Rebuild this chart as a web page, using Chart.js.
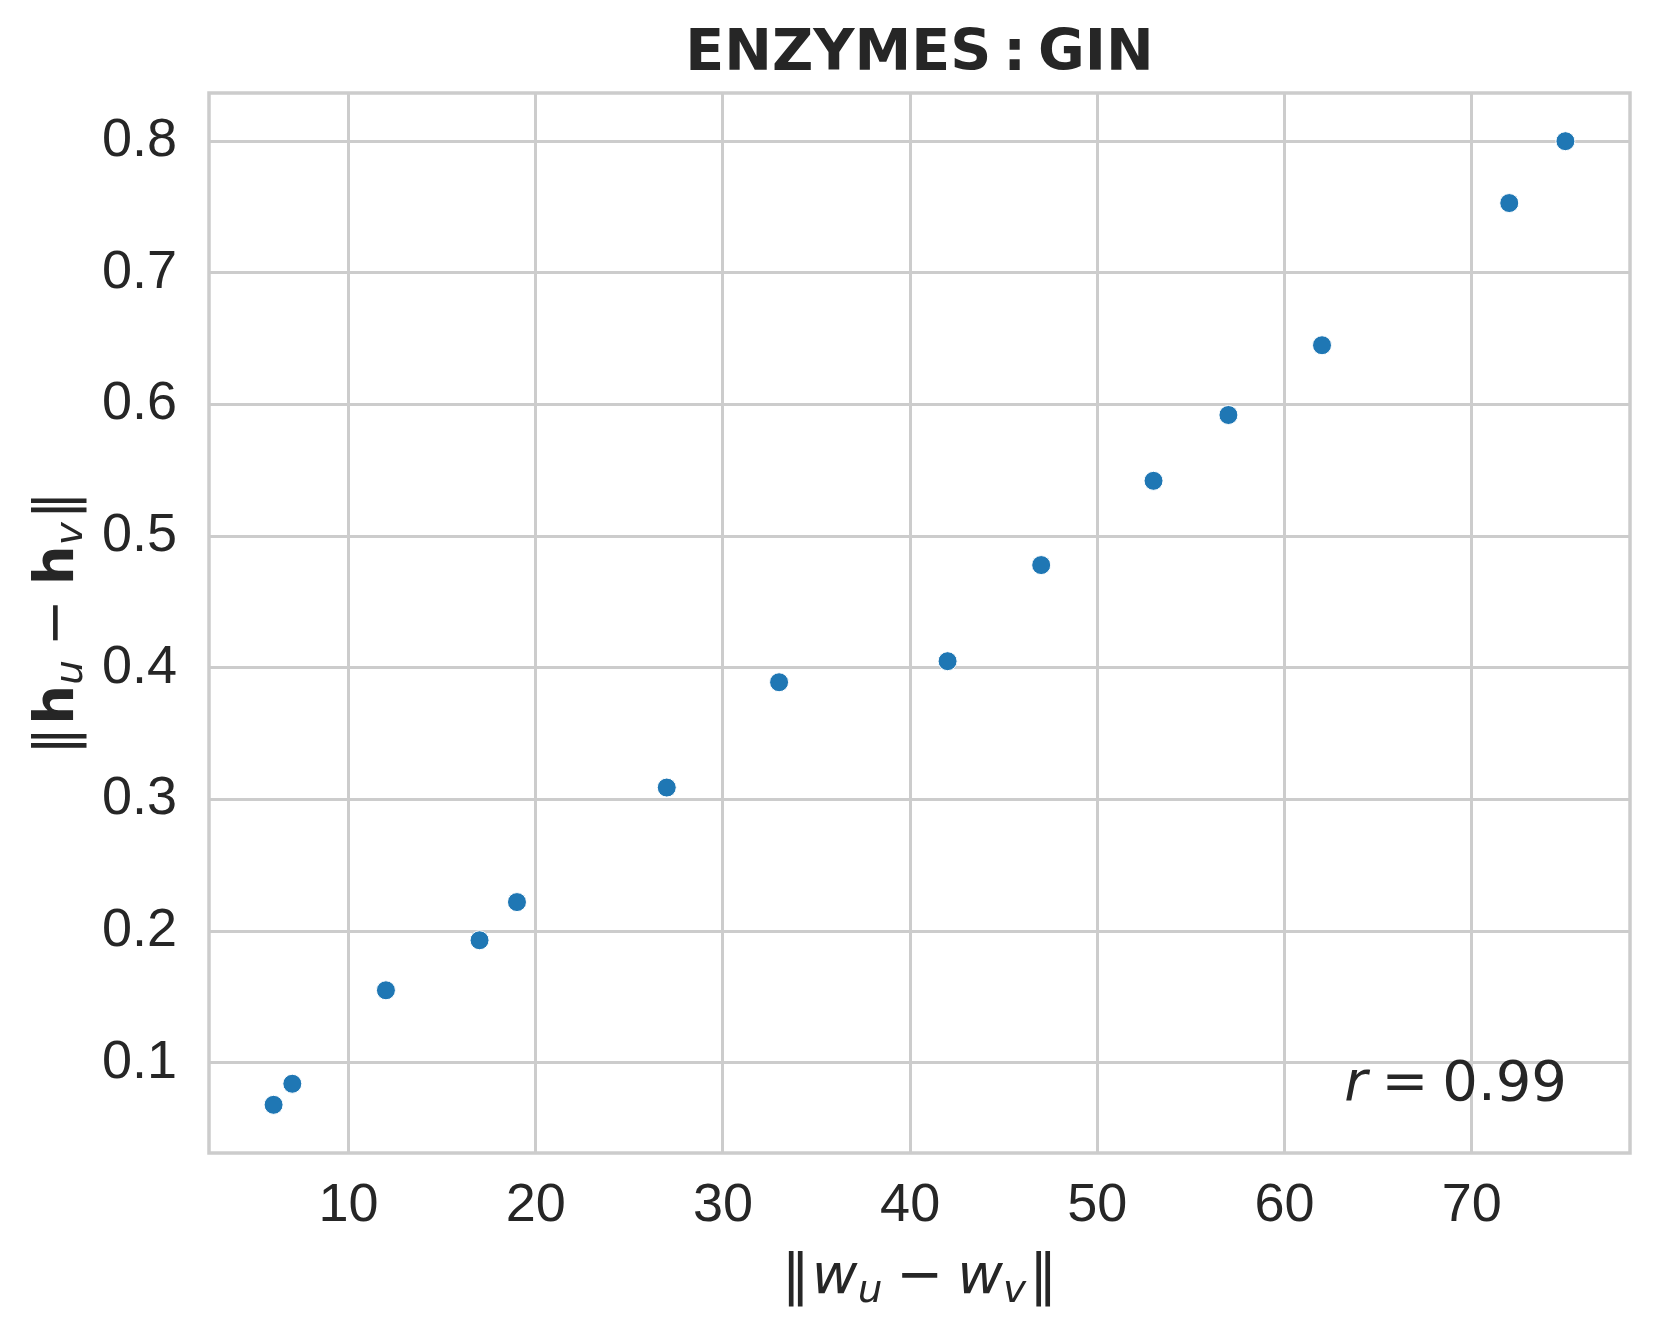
<!DOCTYPE html>
<html>
<head>
<meta charset="utf-8">
<script src="https://cdn.jsdelivr.net/npm/chart.js@4.4.1/dist/chart.umd.min.js"></script>
<style>
html, body { margin: 0; padding: 0; background: #ffffff; }
canvas { display: block; }
</style>
</head>
<body>
<canvas id="enzymesChart" width="1661" height="1339"></canvas>
<script>
// data
const xValues = [6, 7, 12, 17, 19, 27, 33, 42, 47, 53, 57, 62, 72, 75];
const yValues = [0.068, 0.084, 0.155, 0.193, 0.222, 0.309, 0.389, 0.405, 0.478, 0.542, 0.592, 0.645, 0.753, 0.800];
const xTicks = [10, 20, 30, 40, 50, 60, 70];
const yTicks = [0.1, 0.2, 0.3, 0.4, 0.5, 0.6, 0.7, 0.8];
const titleParts = ['ENZYMES', ':', 'GIN'];
const corrValue = '0.99';

const TEXT = '#262626';
const GRID = '#cccccc';
const MATH = "'DejaVu Sans'";

// matplotlib style 5% margins
function padded(vals) {
    const lo = Math.min(...vals), hi = Math.max(...vals);
    const m = (hi - lo) * 0.05;
    return [lo - m, hi + m];
}
const xRange = padded(xValues);
const yRange = padded(yValues);

// draws a row of text pieces with different fonts (poor man's mathtext)
function drawRuns(ctx, runs, x, y, align) {
    let total = 0;
    runs.forEach(r => {
        ctx.font = r.f;
        r.w = ctx.measureText(r.t).width;
        total += r.w + (r.gap || 0);
    });
    let cx = align === 'center' ? x - total / 2 : (align === 'right' ? x - total : x);
    runs.forEach(r => {
        ctx.font = r.f;
        ctx.fillText(r.t, cx, y + (r.dy || 0));
        cx += r.w + (r.gap || 0);
    });
}

const reg = `56px ${MATH}`;
const ital = `italic 56px ${MATH}`;
const bold = `bold 56px ${MATH}`;
const sub = `italic 39px ${MATH}`;

const textPlugin = {
    id: 'textPlugin',
    beforeDatasetsDraw(chart) {
        const { ctx, chartArea: a } = chart;
        ctx.save();
        ctx.strokeStyle = GRID;
        ctx.lineWidth = 3.5;
        ctx.strokeRect(a.left, a.top, a.right - a.left, a.bottom - a.top);
        ctx.restore();
    },
    afterDraw(chart) {
        const { ctx, chartArea: a } = chart;
        const midX = (a.left + a.right) / 2;
        const midY = (a.top + a.bottom) / 2;
        ctx.save();
        ctx.fillStyle = TEXT;
        ctx.textBaseline = 'alphabetic';
        ctx.textAlign = 'left';

        // title
        const tf = `bold 57px ${MATH}`;
        drawRuns(ctx, [
            { t: titleParts[0], f: tf, gap: 12 },
            { t: titleParts[1], f: tf, gap: 12 },
            { t: titleParts[2], f: tf }
        ], midX, 70, 'center');

        // x label  ||w_u - w_v||
        drawRuns(ctx, [
            { t: '‖', f: reg, gap: 2 },
            { t: 'w', f: ital },
            { t: 'u', f: sub, dy: 9, gap: 14 },
            { t: '−', f: reg, gap: 14 },
            { t: 'w', f: ital },
            { t: 'v', f: sub, dy: 9, gap: 3 },
            { t: '‖', f: reg }
        ], midX, 1293, 'center');

        // y label  ||h_u - h_v||
        ctx.save();
        ctx.translate(73, midY);
        ctx.rotate(-Math.PI / 2);
        drawRuns(ctx, [
            { t: '‖', f: reg, gap: 2 },
            { t: 'h', f: bold },
            { t: 'u', f: sub, dy: 9, gap: 14 },
            { t: '−', f: reg, gap: 14 },
            { t: 'h', f: bold },
            { t: 'v', f: sub, dy: 9, gap: 3 },
            { t: '‖', f: reg }
        ], 0, 0, 'center');
        ctx.restore();

        // correlation note
        drawRuns(ctx, [
            { t: 'r', f: ital, gap: 14 },
            { t: '=', f: reg, gap: 14 },
            { t: corrValue, f: reg }
        ], 1567, 1100, 'right');

        ctx.restore();
    }
};

const ctx = document.getElementById('enzymesChart').getContext('2d');
new Chart(ctx, {
    type: 'scatter',
    data: {
        datasets: [{
            data: xValues.map((x, i) => ({ x: x, y: yValues[i] })),
            backgroundColor: '#1f77b4',
            borderColor: '#ffffff',
            borderWidth: 1,
            pointRadius: 9.5,
            pointHoverRadius: 9.5
        }]
    },
    options: {
        responsive: false,
        animation: false,
        devicePixelRatio: 1,
        layout: { padding: { top: 93, right: 31, left: 0, bottom: 0 } },
        plugins: {
            legend: { display: false },
            tooltip: { enabled: false },
            title: { display: false }
        },
        scales: {
            x: {
                type: 'linear',
                min: xRange[0],
                max: xRange[1],
                afterBuildTicks: s => { s.ticks = xTicks.map(v => ({ value: v })); },
                afterFit: s => { s.height = 186; },
                grid: { color: GRID, lineWidth: 3, drawTicks: false },
                border: { display: false },
                ticks: {
                    autoSkip: false,
                    maxRotation: 0,
                    padding: 21,
                    color: TEXT,
                    font: { family: "'Liberation Sans', Arial, sans-serif", size: 54 },
                    callback: v => String(v)
                }
            },
            y: {
                type: 'linear',
                min: yRange[0],
                max: yRange[1],
                afterBuildTicks: s => { s.ticks = yTicks.map(v => ({ value: v })); },
                afterFit: s => { s.width = 209; },
                grid: { color: GRID, lineWidth: 3, drawTicks: false },
                border: { display: false },
                ticks: {
                    autoSkip: false,
                    padding: 32,
                    color: TEXT,
                    font: { family: "'Liberation Sans', Arial, sans-serif", size: 54 },
                    callback: v => v.toFixed(1)
                }
            }
        }
    },
    plugins: [textPlugin]
});
</script>
</body>
</html>
